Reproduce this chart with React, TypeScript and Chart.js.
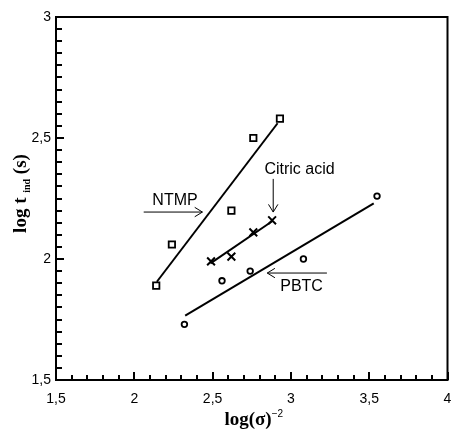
import React, { useEffect, useRef } from 'react';
import { Chart, registerables } from 'chart.js';

Chart.register(...registerables);

// Measured points
const ntmpX = [2.14, 2.24, 2.62, 2.76, 2.93];
const ntmpY = [1.89, 2.06, 2.2, 2.5, 2.58];
const citricX = [2.49, 2.62, 2.76, 2.88];
const citricY = [1.99, 2.01, 2.11, 2.16];
const pbtcX = [2.32, 2.56, 2.74, 3.08, 3.55];
const pbtcY = [1.73, 1.91, 1.95, 2.0, 2.26];

// Fitted lines (end points)
const ntmpFitX = [2.144, 2.915];
const ntmpFitY = [1.906, 2.561];
const citricFitX = [2.486, 2.885];
const citricFitY = [1.982, 2.158];
const pbtcFitX = [2.325, 3.529];
const pbtcFitY = [1.766, 2.23];

// Axis ranges / ticks
const xRange = [1.5, 4];
const yRange = [1.5, 3];
const majorStep = 0.5;

const toPoints = (xs: number[], ys: number[]) => xs.map((x, i) => ({ x, y: ys[i] }));
const fmt = (v: number | string) => {
  const n = Number(v);
  return Number.isInteger(n) ? String(n) : String(n).replace('.', ',');
};

const SANS = '"Liberation Sans", Arial, sans-serif';
const SERIF = '"Liberation Serif", "Times New Roman", serif';

function drawRuns(ctx: CanvasRenderingContext2D, runs: { t: string; font: string; dy: number }[], cx: number, cy: number) {
  let total = 0;
  const widths = runs.map((r) => {
    ctx.font = r.font;
    const w = ctx.measureText(r.t).width;
    total += w;
    return w;
  });
  let x = cx - total / 2;
  ctx.textAlign = 'left';
  ctx.textBaseline = 'alphabetic';
  runs.forEach((r, i) => {
    ctx.font = r.font;
    ctx.fillText(r.t, x, cy + r.dy);
    x += widths[i];
  });
}

function arrow(ctx: CanvasRenderingContext2D, x1: number, y1: number, x2: number, y2: number) {
  ctx.beginPath();
  ctx.moveTo(x1, y1);
  ctx.lineTo(x2, y2);
  const ang = Math.atan2(y2 - y1, x2 - x1);
  const len = 9;
  const spread = 0.55;
  ctx.moveTo(x2 - len * Math.cos(ang - spread), y2 - len * Math.sin(ang - spread));
  ctx.lineTo(x2, y2);
  ctx.lineTo(x2 - len * Math.cos(ang + spread), y2 - len * Math.sin(ang + spread));
  ctx.stroke();
}

const decor = {
  id: 'decor',
  afterDraw(chart: any) {
    const { ctx, chartArea: a, scales } = chart;
    const x = scales.x;
    const y = scales.y;
    ctx.save();
    ctx.strokeStyle = '#000';
    ctx.fillStyle = '#000';
    // frame
    ctx.lineWidth = 2;
    ctx.strokeRect(a.left, a.top, a.right - a.left, a.bottom - a.top);
    // x ticks (inward)
    const nx = Math.round((xRange[1] - xRange[0]) / 0.1);
    for (let k = 0; k <= nx; k++) {
      const px = Math.round(x.getPixelForValue(xRange[0] + k * 0.1));
      const len = k % 5 === 0 ? 8 : 5;
      ctx.beginPath();
      ctx.moveTo(px, a.bottom);
      ctx.lineTo(px, a.bottom - len);
      ctx.stroke();
    }
    // y ticks (inward)
    const ny = Math.round((yRange[1] - yRange[0]) / 0.05);
    for (let k = 0; k <= ny; k++) {
      const py = Math.round(y.getPixelForValue(yRange[0] + k * 0.05));
      const len = k % 10 === 0 ? 8 : 6;
      ctx.beginPath();
      ctx.moveTo(a.left, py);
      ctx.lineTo(a.left + len, py);
      ctx.stroke();
    }
    // annotations
    ctx.lineWidth = 1;
    ctx.font = '16px ' + SANS;
    ctx.textAlign = 'center';
    ctx.textBaseline = 'middle';
    ctx.fillText('NTMP', x.getPixelForValue(2.26), y.getPixelForValue(2.24));
    arrow(ctx, x.getPixelForValue(2.06), y.getPixelForValue(2.194), x.getPixelForValue(2.435), y.getPixelForValue(2.194));
    ctx.fillText('Citric acid', x.getPixelForValue(3.055), y.getPixelForValue(2.368));
    arrow(ctx, x.getPixelForValue(2.887), y.getPixelForValue(2.331), x.getPixelForValue(2.887), y.getPixelForValue(2.194));
    ctx.fillText('PBTC', x.getPixelForValue(3.068), y.getPixelForValue(1.884));
    arrow(ctx, x.getPixelForValue(3.23), y.getPixelForValue(1.942), x.getPixelForValue(2.849), y.getPixelForValue(1.942));

    // axis titles
    const bold = (s: number) => `bold ${s}px ${SERIF}`;
    drawRuns(
      ctx,
      [
        { t: 'log(σ)', font: bold(19), dy: 0 },
        { t: '−2', font: `10px ${SANS}`, dy: -8 },
      ],
      (a.left + a.right) / 2 + 2,
      425
    );
    ctx.save();
    ctx.translate(26, (a.top + a.bottom) / 2 - 5);
    ctx.rotate(-Math.PI / 2);
    drawRuns(
      ctx,
      [
        { t: 'log t ', font: bold(19), dy: 0 },
        { t: 'ind', font: bold(10), dy: 4 },
        { t: ' (s)', font: bold(19), dy: 0 },
      ],
      0,
      0
    );
    ctx.restore();
    ctx.restore();
  },
};

export default function App() {
  const ref = useRef<HTMLCanvasElement>(null);
  useEffect(() => {
    document.body.style.margin = '0';
    const lineDs = (label: string, xs: number[], ys: number[]) => ({
      label,
      data: toPoints(xs, ys),
      showLine: true,
      borderColor: '#000',
      borderWidth: 2,
      pointRadius: 0,
      fill: false,
    });
    const markDs = (label: string, xs: number[], ys: number[], style: string, r: number, bw: number) => ({
      label,
      data: toPoints(xs, ys),
      showLine: false,
      pointStyle: style,
      pointRadius: r,
      borderColor: '#000',
      backgroundColor: 'rgba(0,0,0,0)',
      pointBorderWidth: bw,
      borderWidth: bw,
    });
    const tickFont = { family: SANS, size: 14 };
    const chart = new Chart(ref.current as HTMLCanvasElement, {
      type: 'scatter',
      data: {
        datasets: [
          lineDs('NTMP fit', ntmpFitX, ntmpFitY),
          lineDs('Citric acid fit', citricFitX, citricFitY),
          lineDs('PBTC fit', pbtcFitX, pbtcFitY),
          markDs('NTMP', ntmpX, ntmpY, 'rect', 4.5, 1.8),
          markDs('Citric acid', citricX, citricY, 'crossRot', 5.5, 2),
          markDs('PBTC', pbtcX, pbtcY, 'circle', 2.8, 1.8),
        ] as any,
      },
      options: {
        animation: false,
        responsive: false,
        maintainAspectRatio: false,
        layout: { padding: { top: 17, right: 6, left: 0, bottom: 0 } },
        plugins: { legend: { display: false }, tooltip: { enabled: false } },
        scales: {
          x: {
            type: 'linear',
            min: xRange[0],
            max: xRange[1],
            ticks: { stepSize: majorStep, callback: fmt, font: tickFont, color: '#000', padding: 1, maxRotation: 0, autoSkip: false },
            grid: { display: false, drawTicks: true, tickLength: 10 },
            border: { display: false },
            afterFit: (s: any) => {
              s.height = 52;
            },
          },
          y: {
            type: 'linear',
            min: yRange[0],
            max: yRange[1],
            ticks: { stepSize: majorStep, callback: fmt, font: tickFont, color: '#000', padding: 0, autoSkip: false },
            grid: { display: false, drawTicks: true, tickLength: 5 },
            border: { display: false },
            afterFit: (s: any) => {
              s.width = 56;
            },
          },
        },
      } as any,
      plugins: [decor],
    });
    return () => chart.destroy();
  }, []);
  return <canvas ref={ref} width={455} height={432} style={{ display: 'block' }} />;
}
